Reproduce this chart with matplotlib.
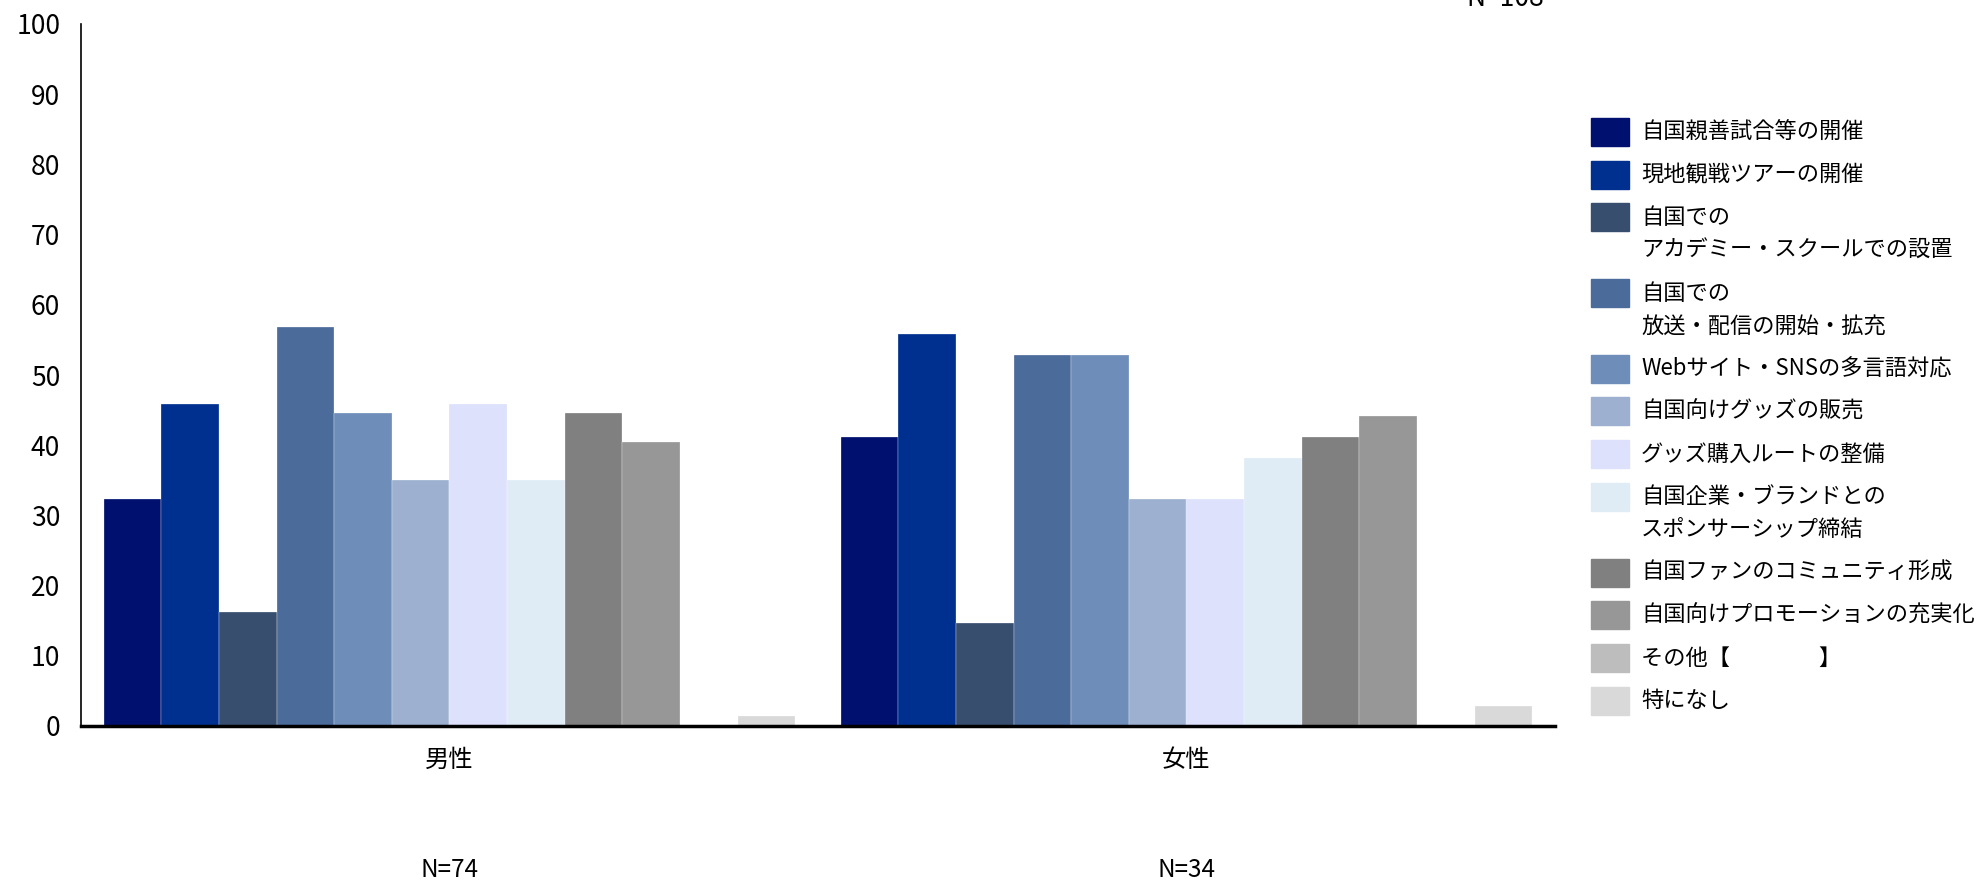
import matplotlib
matplotlib.use("Agg")
import matplotlib.pyplot as plt
from matplotlib.patches import Rectangle
import numpy as np

plt.rcParams['font.family'] = ['Noto Sans CJK JP', 'DejaVu Sans']

# data
groups = ['男性', '女性']
group_n = ['N=74', 'N=34']
items = ['自国親善試合等の開催', '現地観戦ツアーの開催', '自国での\nアカデミー・スクールでの設置',
         '自国での\n放送・配信の開始・拡充', 'Webサイト・SNSの多言語対応', '自国向けグッズの販売',
         'グッズ購入ルートの整備', '自国企業・ブランドとの\nスポンサーシップ締結', '自国ファンのコミュニティ形成',
         '自国向けプロモーションの充実化', 'その他【　　　　】', '特になし']
male = [32.4, 45.9, 16.2, 56.8, 44.6, 35.1, 45.9, 35.1, 44.6, 40.5, 0.0, 1.4]
female = [41.2, 55.9, 14.7, 52.9, 52.9, 32.4, 32.4, 38.2, 41.2, 44.1, 0.0, 2.9]
colors = ['#00106F', '#00308F', '#374E6F', '#4B6B9A', '#6E8DB9', '#9DB0D0',
          '#DDE1FC', '#DFECF6', '#808080', '#979797', '#BDBDBD', '#D9D9D9']

W, H = 1977, 883
fig = plt.figure(figsize=(W / 100, H / 100), dpi=100)
ax = fig.add_axes([81 / W, 1 - 726 / H, (1555 - 81) / W, (726 - 24) / H])

vals = np.array([male, female])
x = np.arange(len(groups))
gw = 0.938
bw = gw / len(items)
for i, col in enumerate(colors):
    ax.bar(x - gw / 2 + bw * (i + 0.5), vals[:, i], width=bw, color=col,
           edgecolor='white', linewidth=0.2)

ax.set_xlim(-0.5, 1.5)
ax.set_ylim(0, 100)
ax.set_yticks(np.arange(0, 101, 10))
ax.set_xticks(x)
ax.set_xticklabels(groups)
ax.tick_params(axis='y', length=0, pad=15, labelsize=19)
ax.tick_params(axis='x', length=0, pad=15, labelsize=17.5)
for s in ['top', 'right']:
    ax.spines[s].set_visible(False)
ax.spines['left'].set_linewidth(1.2)
ax.spines['bottom'].set_linewidth(2.5)

for xi, n in zip(x, group_n):
    fig.text((81 + (xi + 0.5) * (1555 - 81) / 2) / W, 1 - 870 / H, n,
             ha='center', va='center', fontsize=17.5)

# total N, partly cut at the top edge as in the source
fig.text(1505 / W, 1 - 6 / H, 'N=108', ha='center', va='baseline', fontsize=19)

# legend drawn by hand
y = 132
for lab, col in zip(items, colors):
    fig.patches.append(Rectangle((1591 / W, 1 - (y + 14) / H), 38 / W, 28 / H,
                                 transform=fig.transFigure, color=col))
    for j, line in enumerate(lab.split('\n')):
        fig.text(1641 / W, 1 - (y + 33 * j) / H, line, ha='left', va='center',
                 fontsize=16)
    y += 42.7 + 33 * lab.count('\n')

fig.savefig('out.png', dpi=100)
